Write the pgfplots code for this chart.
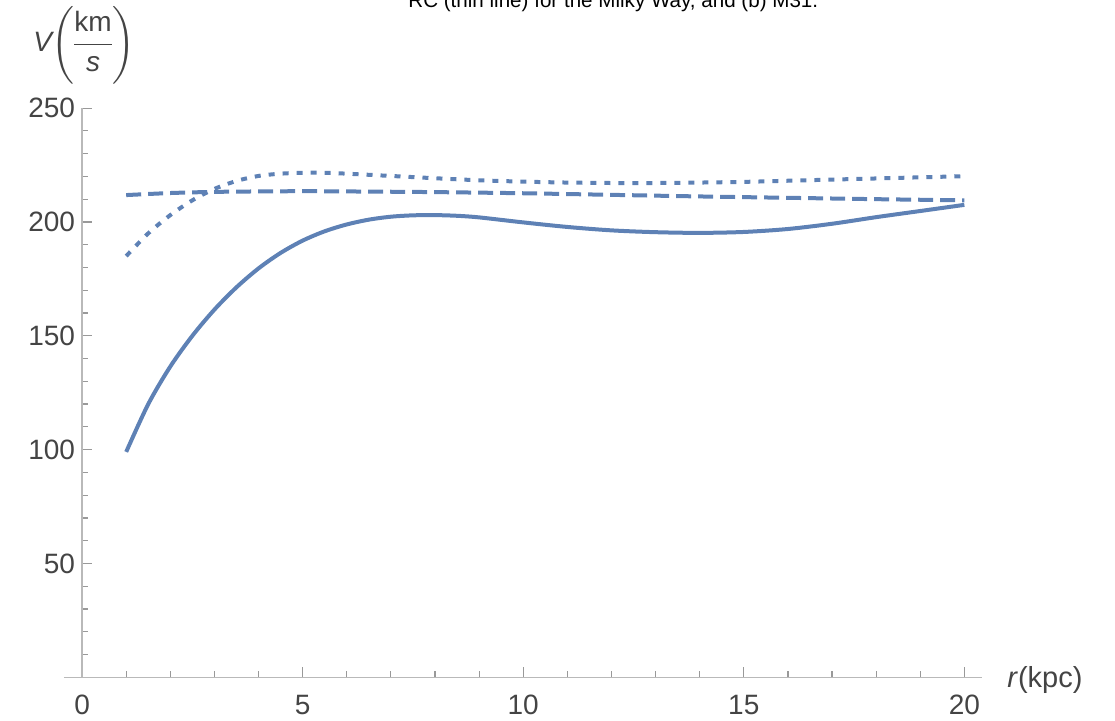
\documentclass[border=0pt]{standalone}
\usepackage{fontspec}
\setmainfont{Liberation Sans}
\usepackage{amsmath}
\usepackage{graphicx}
\usepackage{pgfplots}
\pgfplotsset{compat=1.18}
\definecolor{mblue}{RGB}{94,129,181}
\definecolor{lab}{RGB}{68,68,68}

\begin{document}
\begin{tikzpicture}
\begin{axis}[
  name=ax, at={(0,0)}, anchor=south west,
  scale only axis, width=459pt, height=284.6pt,
  xmin=-0.41, xmax=20.4, ymin=0, ymax=250,
  axis lines=middle,
  every inner x axis line/.append style={-},
  every inner y axis line/.append style={-},
  axis line style={draw=gray!55, line width=0.8pt},
  xtick={0,5,10,15,20}, ytick={50,100,150,200,250},
  minor xtick={1,2,3,4,6,7,8,9,11,12,13,14,16,17,18,19},
  minor ytick={10,20,30,40,60,70,80,90,110,120,130,140,160,170,180,190,210,220,230,240},
  tick align=inside,
  major tick length=5pt, minor tick length=3pt,
  tick style={draw=gray!80, line width=0.6pt},
  ticklabel style={font=\fontsize{14}{16}\selectfont, text=lab},
  /pgf/number format/assume math mode=true,
  hide obscured x ticks=false,
  hide obscured y ticks=false,
  xticklabel style={yshift=-5.5pt},
]
\addplot[mblue, line width=2pt, smooth] coordinates {
(1,99) (1.5,120) (2,136.5) (2.5,150) (3,161.5) (3.5,171.3) (4,179.6) (4.5,186.4)
(5,191.8) (5.5,195.9) (6,198.9) (6.5,201) (7,202.3) (7.5,202.9) (8,203)
(8.5,202.7) (9,202) (10,199.8) (11,197.8) (12,196.3) (13,195.5)
(14,195.2) (15,195.6) (16,196.9) (17,199.2) (18,202.1) (19,204.8) (20,207.5)
};
\addplot[mblue, line width=2pt, smooth, dash pattern=on 3pt off 4pt] coordinates {
(1,185) (1.5,195) (2,203) (2.5,209.5) (3,214.5) (3.5,218) (4,220.2)
(4.5,221.2) (5,221.6) (5.5,221.6) (6,221.2) (7,220.2) (8,219.2) (9,218.3)
(10,217.7) (11,217.3) (12,217.1) (13,217.1) (14,217.3) (15,217.6) (16,218.1)
(17,218.6) (18,219.1) (19,219.6) (20,220.1)
};
\addplot[mblue, line width=2pt, smooth, dash pattern=on 7.5pt off 3.5pt] coordinates {
(1,211.8) (2,212.7) (3,213.2) (4,213.4) (5,213.5) (6,213.4) (8,213.1)
(10,212.6) (12,211.9) (14,211.2) (16,210.6) (18,210.0) (20,209.5)
};
\end{axis}
\node[anchor=base west, inner sep=0, font=\fontsize{10.3}{12}\selectfont] at (172pt,335.15pt) {RC (thin line) for the Milky Way, and (b) M31.};
\node[anchor=west, inner sep=0, text=lab, font=\fontsize{14}{16}\selectfont] at (-15.5pt,316.15pt) {\textit{V}\kern-1.5pt\scalebox{1}[0.9]{$\Biggl($}\kern-1pt$\dfrac{\text{km}}{\textit{s}}$\kern-1pt\scalebox{1}[0.9]{$\Biggr)$}};
\node[anchor=west, inner sep=0, text=lab, font=\fontsize{14.5}{16}\selectfont] at (471.5pt,-1.35pt) {\textit{r}(kpc)};
\pgfresetboundingbox
\useasboundingbox (-32pt,-21.35pt) rectangle (525.5pt,338.65pt);
\end{tikzpicture}
\end{document}
